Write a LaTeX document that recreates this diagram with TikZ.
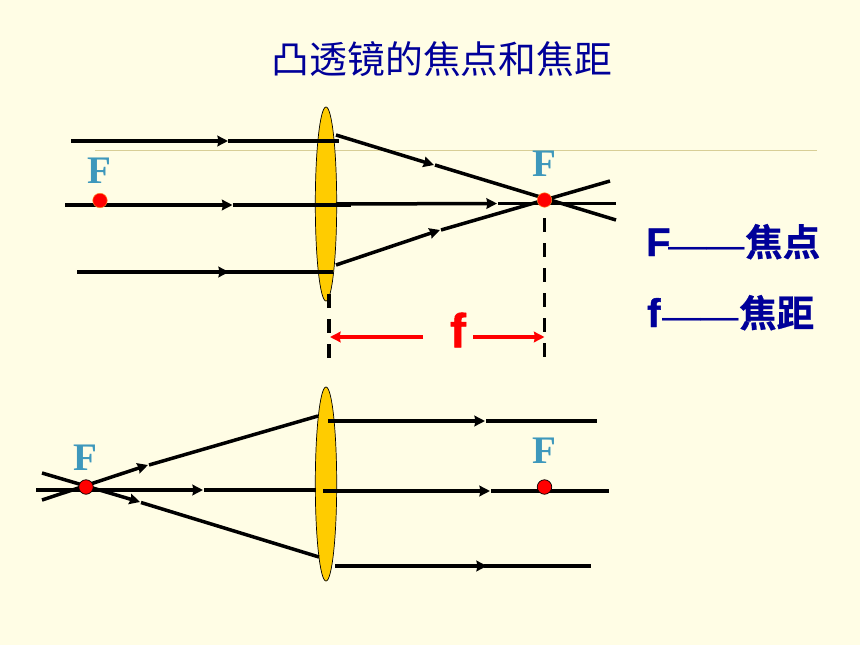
\documentclass[tikz,border=0pt]{standalone}
\usepackage{fontspec}
\usetikzlibrary{arrows.meta}
\setmainfont{Liberation Serif}
\newfontfamily\cjkfont{Noto Sans CJK SC}
\newfontfamily\cjkheavy[UprightFont=* Bold,FakeBold=0.6]{Noto Sans CJK SC}
\newfontfamily\arialfont{Liberation Sans}
\newfontfamily\arialheavy[UprightFont=* Bold,FakeBold=1]{Liberation Sans}
\definecolor{bgc}{RGB}{255,253,229}
\definecolor{lensc}{RGB}{255,204,0}
\definecolor{tealc}{RGB}{62,152,188}
\definecolor{navyc}{RGB}{0,0,153}
\definecolor{tanc}{RGB}{216,206,150}
\definecolor{dotedge}{RGB}{255,140,40}
\tikzset{
  x=1pt,y=-1pt,
  ray/.style={line width=3.5pt,black},
  rayarrow/.style={ray,-{Stealth[length=10.5pt,width=10.5pt,inset=1pt]}},
  lens/.style={draw=black,line width=0.7pt,fill=lensc},
  focus/.style={circle,fill=red,minimum size=14.5pt,inner sep=0pt},
  flabel/.style={text=tealc,font=\fontsize{39}{40}\selectfont\bfseries,inner sep=0pt},
  dimdash/.style={line width=3.5pt,black,dash pattern=on 14pt off 11pt},
  dimarrow/.style={line width=3.5pt,red,-{Stealth[length=10.5pt,width=10.5pt,inset=1pt]}},
  sidelabel/.style={text=navyc,anchor=base west,inner sep=0pt},
}
\newcommand{\sidetext}[3]{{\arialheavy\fontsize{40}{42}\selectfont #1}\hspace{#3}\raisebox{-2pt}{\arialfont\fontsize{38.5}{40}\selectfont ——}{\cjkheavy\fontsize{37.5}{40}\selectfont #2}}
\begin{document}
\begin{tikzpicture}
\useasboundingbox (0,0) rectangle (860,645);
\fill[bgc] (0,0) rectangle (860,645);
\node[text=navyc,inner sep=0pt,font=\cjkfont\fontsize{37.8}{40}\selectfont] (title) at (442,59) {凸透镜的焦点和焦距};
\draw[tanc,line width=0.8pt] (95,150.5) -- (817,150.5);
% top lens
\draw[lens] (326,204) ellipse [x radius=10.7,y radius=97];
% top incoming rays
\draw[rayarrow] (71,141) -- (228,141);
\draw[ray] (228,141) -- (339,141);
\draw[rayarrow] (65,205) -- (232.5,205);
\draw[ray] (232.5,205) -- (351,205);
\draw[rayarrow] (77,272) -- (229,272);
\draw[ray] (225,272) -- (333,272);
% top refracted rays
\draw[rayarrow] (336,135) -- (434,165);
\draw[ray] (435,165) -- (616,220);
\draw[rayarrow] (336,204) -- (497,203.5);
\draw[ray] (498,203.5) -- (616,203.5);
\draw[rayarrow] (336,265) -- (440,230);
\draw[ray] (441,230) -- (610,181);
% focal distance
\draw[dimdash] (329,294) -- (329,358);
\draw[dimdash] (544.7,218) -- (544.7,358);
\draw[dimarrow] (423,337) -- (330,337);
\draw[dimarrow] (473,337) -- (544.5,337);
\node[text=red,inner sep=0pt,font=\arialheavy\fontsize{48}{50}\selectfont] (flen) at (458,330) {f};
% focus, top
\node[focus,draw=dotedge,line width=0.5pt] (f1) at (100,200.5) {};
\node[focus,draw=dotedge,line width=0.5pt] (f2) at (544.5,200) {};
\node[flabel] (lf1) at (99.5,171) {F};
\node[flabel] (lf2) at (544.5,164) {F};
% side labels
\node[sidelabel] (s1) at (646,256) {\sidetext{F}{焦点}{-2.4pt}};
\node[sidelabel] (s2) at (647,327) {\sidetext{f}{焦距}{1.7pt}};
% bottom lens
\draw[lens] (326,484) ellipse [x radius=10.7,y radius=97];
% bottom left rays
\draw[rayarrow] (42,500) -- (148,465);
\draw[ray] (149,465) -- (318,416);
\draw[rayarrow] (36,490) -- (203,490);
\draw[ray] (204,490) -- (316,490);
\draw[rayarrow] (42,473) -- (140,502);
\draw[ray] (141,502.5) -- (319,557);
% bottom right rays
\draw[rayarrow] (328,421) -- (485,421);
\draw[ray] (486,421) -- (597,421);
\draw[rayarrow] (323,491) -- (490,491);
\draw[ray] (491,491) -- (609,491);
\draw[rayarrow] (335,566) -- (487,566);
\draw[ray] (484,566) -- (591,566);
% focus, bottom
\node[focus,draw=black,line width=0.7pt] (f3) at (86,487) {};
\node[focus,draw=black,line width=0.7pt] (f4) at (544.5,487) {};
\node[flabel] (lf3) at (85.5,458) {F};
\node[flabel] (lf4) at (544.5,451) {F};
\end{tikzpicture}
\end{document}
